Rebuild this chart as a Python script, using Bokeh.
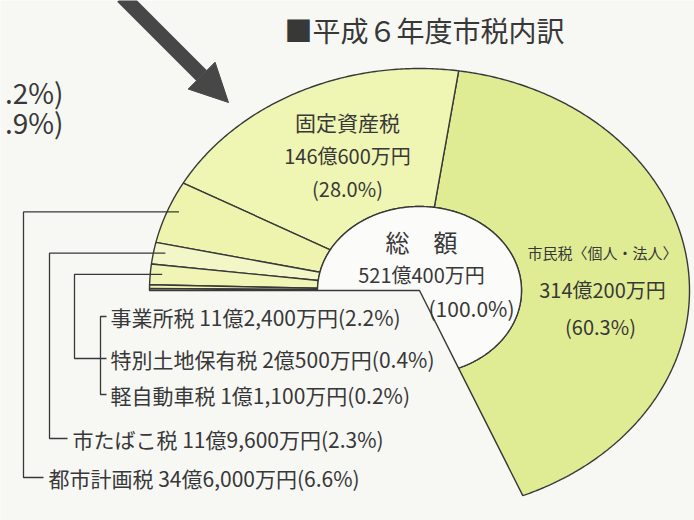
import numpy as np
from bokeh.plotting import figure
from bokeh.models import Range1d, Arrow, NormalHead
from bokeh.embed import file_html
from bokeh.resources import INLINE
from bokeh.core.properties import value

# ---------------- data ----------------
categories = ["市民税〈個人・法人〉", "固定資産税", "都市計画税", "市たばこ税",
              "事業所税", "特別土地保有税", "軽自動車税"]
amounts_man = [3140200, 1460600, 346000, 119600, 112400, 20500, 11100]  # 万円
percents = [60.3, 28.0, 6.6, 2.3, 2.2, 0.4, 0.2]
total_label = "総　額"
total_man = 5210400
total_pct = 100.0
title_text = "■平成６年度市税内訳"
side_fragments = [".2%)", ".9%)"]


def yen(v):
    oku, man = divmod(v, 10000)
    return f"{oku}億{man:,}万円"


# ---------------- layout / style ----------------
W, H = 694, 520
CX, CY = 419, 290
RX, RY = 270, 222
IRX, IRY = 102, 84
START, END = -67.5, 180.0
INK = "#383838"
JP = "Noto Sans CJK JP"
NARROW = "Liberation Sans Narrow, Noto Sans CJK JP"
slice_colors = ["#e0ec93", "#eff5b2", "#eef4ad", "#f3f7c8", "#f0f5b6", "#f0f5b6", "#f0f5b6"]

p = figure(width=W, height=H, x_range=Range1d(0, W), y_range=Range1d(H, 0),
           x_axis_type=None, y_axis_type=None, toolbar_location=None,
           output_backend="svg", min_border=0)
p.outline_line_color = None
p.background_fill_color = "#f7f7f4"
p.border_fill_color = "#f7f7f4"

# slice angles from the amounts
tot = float(sum(amounts_man))
cum = np.concatenate([[0.0], np.cumsum(amounts_man)]) / tot
bounds = START + (END - START) * cum


def ell(a, rx, ry):
    r = np.deg2rad(a)
    return CX + rx * np.cos(r), CY - ry * np.sin(r)


xs, ys = [], []
for a0, a1 in zip(bounds[:-1], bounds[1:]):
    t = np.linspace(a0, a1, max(4, int(abs(a1 - a0) * 2)))
    ox, oy = ell(t, RX, RY)
    ix, iy = ell(t[::-1], IRX, IRY)
    xs.append(list(ox) + list(ix))
    ys.append(list(oy) + list(iy))
p.patches(xs, ys, fill_color=slice_colors, line_color=INK, line_width=1.4)

# white centre (total)
t = np.linspace(START, END, 300)
hx, hy = ell(t, IRX, IRY)
p.patch([CX] + list(hx), [CY] + list(hy), fill_color="#fbfbfa", line_color=INK, line_width=1.4)

# ---------------- labels in the ring ----------------
def txt(x, y, s, size, font=JP, align="center"):
    p.text(x=[x], y=[y], text=[s], text_font=value(font), text_font_size=f"{size}px",
           text_align=align, text_baseline="middle", text_color=INK)

txt(347, 121, categories[1], 21)
txt(347, 155, yen(amounts_man[1]), 20, NARROW)
txt(347, 188, f"({percents[1]:.1f}%)", 20, NARROW)

txt(602, 252, categories[0], 15)
txt(602, 289, yen(amounts_man[0]), 20, NARROW)
txt(600, 326, f"({percents[0]:.1f}%)", 20, NARROW)

txt(421, 241, total_label, 24)
txt(421, 274, yen(total_man), 20, NARROW)
txt(428, 307, f"({total_pct:.1f}%)", 21, NARROW, align="left")

# ---------------- list labels with leaders ----------------
rows_y = {4: 316, 5: 358, 6: 394, 3: 438, 2: 477}
rows_x = {4: 110, 5: 110, 6: 110, 3: 72, 2: 48}
for k in rows_y:
    txt(rows_x[k], rows_y[k], f"{categories[k]} {yen(amounts_man[k])}({percents[k]:.1f}%)", 21, align="left")

mids = (bounds[:-1] + bounds[1:]) / 2
lx, ly = [], []
for k, vx, tick_end in [(2, 23, 43), (3, 49, 67)]:
    px, py = ell(mids[k], RX, RY)
    lx.append([px + 12, vx, vx, tick_end])
    ly.append([py, py, rows_y[k], rows_y[k]])
px, py = ell(mids[4], RX, RY)
lx.append([px + 12, 74, 74, 106])
ly.append([py, py, rows_y[5], rows_y[5]])
lx.append([106, 100, 100, 106])
ly.append([rows_y[4], rows_y[4], rows_y[6], rows_y[6]])
p.multi_line(lx, ly, line_color=INK, line_width=1.3)

# ---------------- title, arrow, fragments ----------------
txt(284, 29, title_text, 28, align="left")
p.add_layout(Arrow(x_start=122, y_start=-4, x_end=228, y_end=102, line_width=15,
                   line_color="#474747",
                   end=NormalHead(size=38, fill_color="#474747", line_color="#474747")))
for s, y in zip(side_fragments, [91, 121]):
    txt(63, y, s, 28, align="right")

open("out.html", "w").write(file_html(p, INLINE))
